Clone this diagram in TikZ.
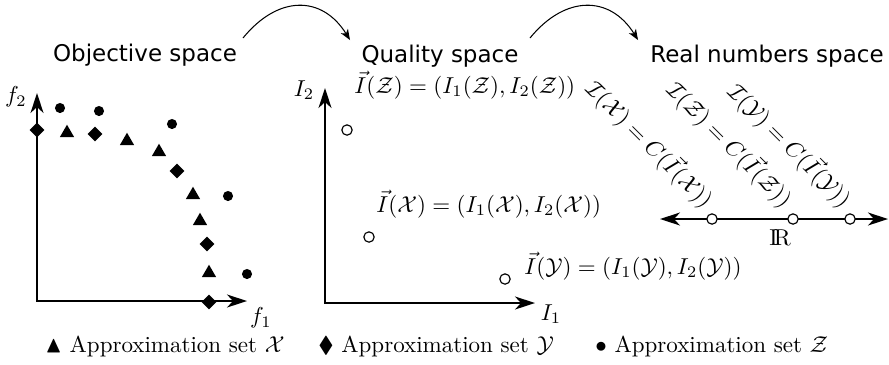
\documentclass[tikz,border=0pt]{standalone}
\usepackage{amssymb}
\usepackage{fontspec}
\newfontfamily\titlefont{DejaVu Sans}
\usetikzlibrary{arrows.meta,shapes.geometric}
\begin{document}
\begin{tikzpicture}[x=0.4348pt,y=-0.4348pt,
  every node/.style={inner sep=0pt},
  titlestyle/.style={font=\titlefont, anchor=base},
  axisline/.style={line width=0.74pt, {Stealth[length=8.7pt,width=5.65pt,inset=2.6pt]}-{Stealth[length=8.7pt,width=5.65pt,inset=2.6pt]}},
  mapline/.style={line width=0.45pt, -{Stealth[length=4.6pt,width=3.6pt,inset=1.3pt]}},
  tri/.style={regular polygon, regular polygon sides=3, fill=black, inner sep=0pt, minimum size=7.2pt},
  dia/.style={diamond, fill=black, inner sep=0pt, minimum size=6.5pt},
  dotm/.style={circle, fill=black, inner sep=0pt, minimum size=4.4pt},
  ocirc/.style={circle, draw=black, fill=white, line width=0.5pt, inner sep=0pt, minimum size=4.5pt},
  rotlabel/.style={rotate=-45, anchor=center}
]
\useasboundingbox (0,0) rectangle (889,364);

% titles
\node[titlestyle] (tobj) at (145,61) {Objective space};
\node[titlestyle] (tqual) at (440,62) {Quality space};
\node[titlestyle] (treal) at (767,62) {Real numbers space};

% mapping arrows
\coordinate (m1s) at (243,38);
\coordinate (m1e) at (350,40);
\coordinate (m2s) at (530,38);
\coordinate (m2e) at (638,40);
\draw[mapline] (m1s) .. controls (278,-5) and (322,-5) .. (m1e);
\draw[mapline] (m2s) .. controls (565,-5) and (610,-5) .. (m2e);

% objective space axes
\coordinate (oy) at (37,93);
\coordinate (oo) at (37,301);
\coordinate (ox) at (247,301);
\draw[axisline] (oy) |- (ox);
\node (f2) at (16,97) {$f_2$};
\node (f1) at (261,318) {$f_1$};

% markers
\node[dotm] (c1) at (60,108) {};
\node[dotm] (c2) at (99,111) {};
\node[dotm] (c3) at (172,124) {};
\node[dotm] (c4) at (228,196) {};
\node[dotm] (c5) at (247,274) {};
\node[tri] (t1) at (67,133) {};
\node[tri] (t2) at (127,141) {};
\node[tri] (t3) at (159,152) {};
\node[tri] (t4) at (193,195) {};
\node[tri] (t5) at (200,221) {};
\node[tri] (t6) at (209,273) {};
\node[dia] (d1) at (37,130) {};
\node[dia] (d2) at (95,134) {};
\node[dia] (d3) at (177,171) {};
\node[dia] (d4) at (207,244) {};
\node[dia] (d5) at (209,302) {};

% quality space axes
\coordinate (qy) at (325,88);
\coordinate (qo) at (325,303);
\coordinate (qx) at (535,303);
\draw[axisline] (qy) |- (qx);
\node (i2) at (304,90) {$I_2$};
\node (i1) at (551,314) {$I_1$};
\node[ocirc] (qz) at (347,130) {};
\node[ocirc] (qxx) at (369,237) {};
\node[ocirc] (qyy) at (505,279) {};
\node[anchor=base west] (lz) at (354,93) {$\vec{I}(\mathcal{Z}) = (I_1(\mathcal{Z}), I_2(\mathcal{Z}))$};
\node[anchor=base west] (lx) at (376,212) {$\vec{I}(\mathcal{X}) = (I_1(\mathcal{X}), I_2(\mathcal{X}))$};
\node[anchor=base west] (ly) at (524,274) {$\vec{I}(\mathcal{Y}) = (I_1(\mathcal{Y}), I_2(\mathcal{Y}))$};

% real line
\coordinate (rl) at (660,219);
\coordinate (rr) at (888,219);
\draw[line width=0.6pt, {Stealth[length=8.7pt,width=5.65pt,inset=2.6pt]}-{Stealth[length=8.7pt,width=5.65pt,inset=2.6pt]}] (rl) -- (rr);
\node[ocirc] (rx) at (712,219) {};
\node[ocirc] (rz) at (793,219) {};
\node[ocirc] (ry) at (850,219) {};
\node (rlab) at (780,238) {$\mathrm{I\!R}$};
\node[rotlabel] (cx) at (650,144) {$\mathcal{I}(\mathcal{X}) = C(\vec{I}(\mathcal{X}))$};
\node[rotlabel] (cz) at (730,144) {$\mathcal{I}(\mathcal{Z}) = C(\vec{I}(\mathcal{Z}))$};
\node[rotlabel] (cy) at (790,145) {$\mathcal{I}(\mathcal{Y}) = C(\vec{I}(\mathcal{Y}))$};

% legend
\node[anchor=base west] (leg1) at (45,352) {$\blacktriangle$ Approximation set $\mathcal{X}$};
\node[anchor=base west] (leg2) at (318,352) {$\blacklozenge$ Approximation set $\mathcal{Y}$};
\node[anchor=base west] (leg3) at (595,352) {$\bullet$ Approximation set $\mathcal{Z}$};
\end{tikzpicture}
\end{document}
